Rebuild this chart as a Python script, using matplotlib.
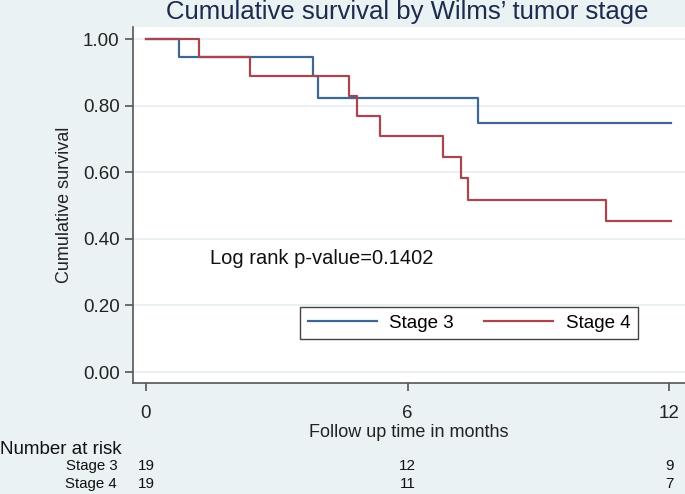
import matplotlib
matplotlib.use('Agg')
import matplotlib.pyplot as plt
from matplotlib.transforms import blended_transform_factory

plt.rcParams['font.family'] = ['Liberation Sans', 'DejaVu Sans']

# Kaplan-Meier step points (months, survival)
stage3_t = [0, 0.76, 3.84, 3.95, 7.62, 12.05]
stage3_s = [1.0, 0.947, 0.889, 0.822, 0.749, 0.749]
stage4_t = [0, 1.22, 2.39, 4.66, 4.85, 5.37, 6.82, 7.22, 7.39, 10.55, 12.05]
stage4_s = [1.0, 0.947, 0.889, 0.829, 0.770, 0.710, 0.647, 0.582, 0.518, 0.453, 0.453]

x_ticks = [0, 6, 12]
y_ticks = [0.0, 0.2, 0.4, 0.6, 0.8, 1.0]
risk_labels = ['Stage 3', 'Stage 4']
risk_counts = [[19, 12, 9], [19, 11, 7]]

bg = '#eaf2f3'
blue = '#3e6893'
red = '#a8454e'

fig = plt.figure(figsize=(6.85, 4.94), dpi=100, facecolor=bg)
ax = fig.add_axes([0.194, 0.2247, 0.806, 0.7206])
ax.set_facecolor('white')

ax.step(stage3_t, stage3_s, where='post', color=blue, lw=1.6, label='Stage 3')
ax.step(stage4_t, stage4_s, where='post', color=red, lw=1.6, label='Stage 4')

ax.set_xlim(-0.30, 12.36)
ax.set_ylim(-0.033, 1.036)
ax.set_xticks(x_ticks)
ax.set_yticks(y_ticks)
ax.set_yticklabels(['%.2f' % v for v in y_ticks])
ax.grid(axis='y', color='#e6eff2', lw=1.2)
ax.set_axisbelow(True)

for s in ['top', 'right']:
    ax.spines[s].set_visible(False)
for s in ['left', 'bottom']:
    ax.spines[s].set_color('#555555')
    ax.spines[s].set_linewidth(1.2)
ax.tick_params(axis='both', direction='out', length=6, width=1.2, color='#555555',
               labelsize=13.5, labelcolor='#222222')
ax.tick_params(axis='x', pad=10)

ax.set_ylabel('Cumulative survival', fontsize=13, color='#222222', labelpad=7)
ax.set_xlabel('Follow up time in months', fontsize=13, color='#222222', labelpad=1)

ax.text(1.47, 0.342, 'Log rank p-value=0.1402', fontsize=14.5, va='center', ha='left',
        color='#111111')

leg = ax.legend(loc='center', bbox_to_anchor=(0.609, 0.1685), ncol=2, fontsize=13.5,
                handlelength=3.7, handletextpad=0.65, columnspacing=1.6,
                fancybox=False, framealpha=1, borderpad=0.4)
leg.get_frame().set_edgecolor('#444444')
leg.get_frame().set_linewidth(1.0)

fig.text(0.595, 0.975, 'Cumulative survival by Wilms\u2019 tumor stage', fontsize=18.5,
         ha='center', va='center', color='#1c2b4e')

# number at risk table
trans = blended_transform_factory(ax.transData, fig.transFigure)
fig.text(0.0, 0.091, 'Number at risk', fontsize=13.5, ha='left', va='center', color='#111111')
row_y = [0.056, 0.021]
for lab, counts, yy in zip(risk_labels, risk_counts, row_y):
    fig.text(0.171, yy, lab, fontsize=10.8, ha='right', va='center', color='#111111')
    for xt, c in zip(x_ticks, counts):
        ax.text(xt, yy, str(c), fontsize=11, ha='center', va='center',
                transform=trans, color='#111111')

fig.savefig('out.png', dpi=100, facecolor=bg)
